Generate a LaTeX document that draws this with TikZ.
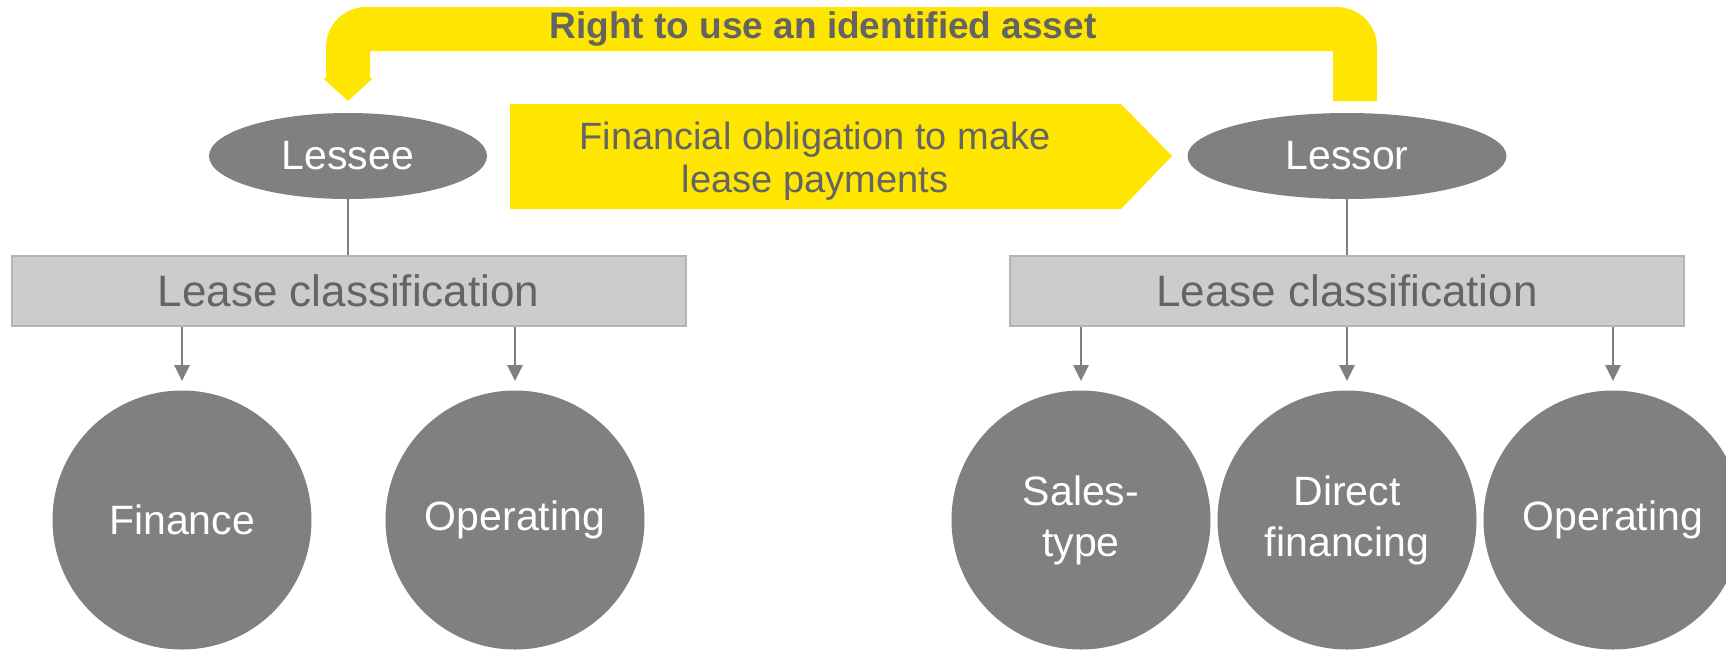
\documentclass[tikz,border=0pt]{standalone}
\usepackage{fontspec}
\setmainfont{Liberation Sans}
\usetikzlibrary{shapes.geometric,arrows.meta}
\definecolor{eyyellow}{HTML}{FFE600}
\definecolor{eygray}{HTML}{808080}
\definecolor{labelgray}{HTML}{646464}
\definecolor{boxgray}{HTML}{CCCCCC}
\definecolor{boxline}{HTML}{B4B4B4}

\begin{document}
\begin{tikzpicture}[x=0.5pt,y=-0.5pt,
  party/.style={ellipse, fill=eygray, text=white, inner sep=0pt, minimum height=43pt,
    font=\fontsize{20.5}{24}\selectfont},
  classbox/.style={rectangle, fill=boxgray, draw=boxline, line width=1pt, minimum width=337pt,
    minimum height=35pt, text=labelgray, font=\fontsize{22}{26}\selectfont},
  kind/.style={circle, fill=eygray, text=white, minimum size=129.5pt, inner sep=0pt,
    align=center, font=\fontsize{20.5}{25.5}\selectfont},
  link/.style={eygray, line width=1.25pt},
  branch/.style={link, -{Triangle[width=7.5pt,length=8pt]}, shorten >=4.5pt}]
   \useasboundingbox (0,0) rectangle (1726,650);
   \clip (0,0) rectangle (1726,650);

   % yellow block arrows
   \fill[eyyellow] (1333,101) -- (1333,51) -- (370,51) -- (370,78) -- (373,78)
     -- (348,101) -- (323,78) -- (326,78) -- (326,47) arc (180:270:40)
     -- (1337,7) arc (270:360:40) -- (1377,101) -- cycle;
   \node[anchor=base, text=labelgray, font=\bfseries\fontsize{18.5}{22}\selectfont] (use)
     at (823,38) {Right to use an identified asset};
   \fill[eyyellow] (510,104) -- (1121,104) -- (1172,156) -- (1121,209) -- (510,209) -- cycle;
   \node[text=labelgray, align=center, font=\fontsize{19}{21.5}\selectfont] (oblig)
     at (815,161) {Financial obligation to make\\lease payments};

   \node[party, minimum width=139pt] (lessee) at (348,156) {Lessee};
   \node[party, minimum width=159.5pt] (lessor) at (1347,156) {Lessor};
   \node[classbox] (lcee) at (348.5,291) {Lease classification};
   \node[classbox] (lcor) at (1347,291) {Lease classification};

   \node[kind] (finance) at (182,520) {Finance};
   \node[kind] (opee) at (515,520) {Operating};
   \node[kind] (sales) at (1081,520) {Sales-\\type};
   \node[kind] (direct) at (1347,520) {Direct\\financing};
   \node[kind] (opor) at (1613,520) {Operating};

   \draw[link] (lessee.south) -- (lessee.south |- lcee.north);
   \draw[link] (lessor.south) -- (lessor.south |- lcor.north);
   \foreach \k in {finance,opee}
     \draw[branch] (lcee.south -| \k) -- (\k.north);
   \foreach \k in {sales,direct,opor}
     \draw[branch] (lcor.south -| \k) -- (\k.north);
\end{tikzpicture}
\end{document}
